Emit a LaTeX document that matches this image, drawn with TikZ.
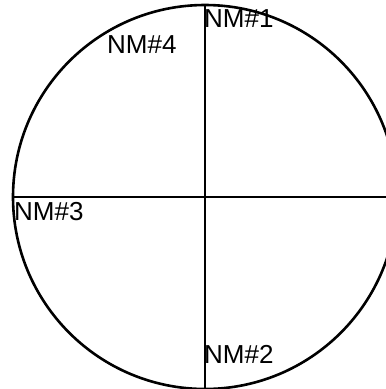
\documentclass[tikz,border=0pt]{standalone}
\usepackage{fontspec}
\setmainfont{Liberation Sans}
\begin{document}
\begin{tikzpicture}[x=1pt,y=-1pt,
  line/.style={line width=2.6pt,black},
  lbl/.style={anchor=base west,inner sep=0pt,font=\fontsize{26}{26}\selectfont}]
\useasboundingbox (0,0) rectangle (386,389);
\clip (0,0) rectangle (386,389);
\coordinate (c) at (205,197);
\coordinate (top) at (205,5);
\coordinate (bot) at (205,392);
\coordinate (left) at (13,197);
\coordinate (right) at (390,197);
\draw[line] (c) circle[radius=192];
\draw[line] (top) -- (bot);
\draw[line] (left) -- (right);
\node[lbl] (nm1) at (204,27) {NM\#1};
\node[lbl] (nm4) at (107,53) {NM\#4};
\node[lbl] (nm3) at (14,220) {NM\#3};
\node[lbl] (nm2) at (204,363) {NM\#2};
\end{tikzpicture}
\end{document}
